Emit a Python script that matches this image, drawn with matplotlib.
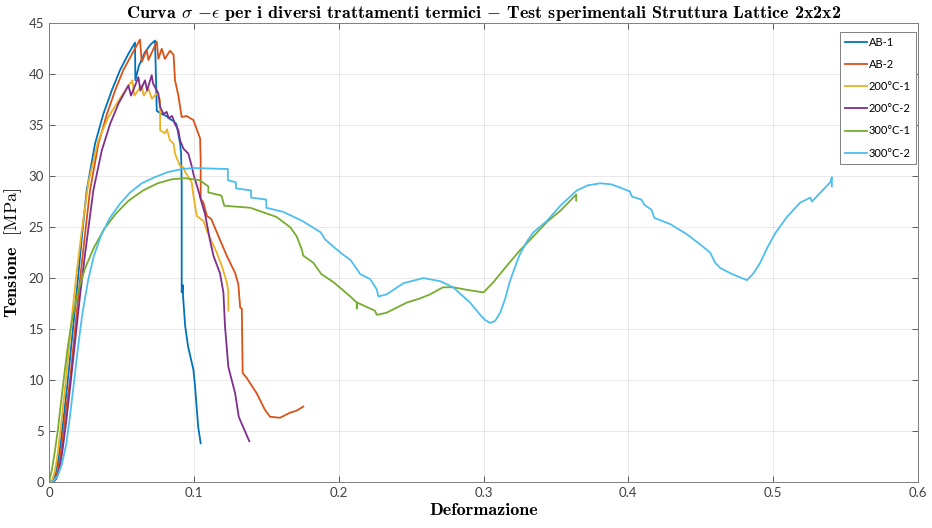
#!/usr/bin/env python3

import matplotlib
matplotlib.use("Agg")
import matplotlib.pyplot as plt

# Strain / stress points
ab1_x = [0, 0.002, 0.004, 0.006, 0.008, 0.0105, 0.013, 0.0165, 0.020, 0.023, 0.026, 0.0318,
         0.0375, 0.0433, 0.049, 0.0548, 0.0594,
         0.0596, 0.062, 0.066, 0.070, 0.0732, 0.0744, 0.0778, 0.081, 0.0835, 0.086, 0.088, 0.0893,
         0.0905, 0.0912, 0.0916, 0.0916, 0.0925, 0.0925, 0.094, 0.096, 0.0997, 0.1008, 0.103, 0.1047]
ab1_y = [0, 0.05, 0.5, 1.8, 3.8, 6.8, 10, 15, 20, 24.5, 28.6, 33.2,
         36.1, 38.4, 40.4, 42.0, 43.1,
         39.4, 40.8, 42.1, 42.9, 43.3, 36.4, 36.1, 35.9, 35.6, 35.4, 35.1, 34.1,
         33.2, 32.2, 29.2, 18.6, 19.3, 18.3, 15.3, 13.3, 11.0, 9.4, 5.4, 3.8]

ab2_x = [0, 0.003, 0.005, 0.007, 0.009, 0.0115, 0.0145, 0.018, 0.0215, 0.025, 0.0283, 0.0341,
         0.040, 0.0456, 0.0513, 0.057, 0.0628, 0.064,
         0.0675, 0.0686, 0.0744, 0.0755, 0.0778, 0.080, 0.0835, 0.086, 0.087, 0.0893, 0.0916,
         0.095, 0.0997, 0.1043, 0.1047, 0.1047, 0.1066, 0.109, 0.112, 0.117, 0.1227, 0.1285,
         0.1307, 0.132, 0.1331, 0.1337, 0.1365, 0.1434, 0.149, 0.1526, 0.1595, 0.1664, 0.171, 0.1756]
ab2_y = [0, 0.05, 0.5, 1.8, 3.8, 6.8, 10, 15, 20, 24.5, 28.6, 33.2,
         36.1, 38.4, 40.4, 41.9, 43.4, 41.2,
         42.4, 41.4, 43.2, 41.5, 42.5, 41.5, 42.3, 41.9, 39.4, 37.9, 35.8,
         35.9, 35.5, 33.7, 31.7, 27.8, 27.4, 26.1, 25.8, 24.1, 22.2, 20.5,
         19.4, 17.1, 17.0, 10.7, 10.2, 8.7, 7.1, 6.4, 6.3, 6.8, 7.0, 7.4]

t200_1_x = [0, 0.002, 0.004, 0.006, 0.008, 0.0105, 0.013, 0.016, 0.019, 0.0225, 0.0272, 0.034,
            0.041, 0.0479, 0.0536, 0.0575, 0.0589, 0.064,
            0.0654, 0.0686, 0.071, 0.0744, 0.0767, 0.0767, 0.080, 0.0815, 0.0835, 0.086, 0.087,
            0.0893, 0.0905, 0.0928, 0.094, 0.0985, 0.0997, 0.102, 0.1066, 0.110, 0.1158, 0.1193,
            0.1227, 0.1238, 0.1238]
t200_1_y = [0, 0.1, 1.0, 2.8, 5.2, 8.5, 12, 16.5, 20.5, 24.5, 29.4, 33.5,
            35.8, 37.4, 38.6, 39.4, 37.9, 38.9,
            37.9, 38.6, 37.6, 38.1, 37.5, 34.5, 34.2, 34.6, 33.5, 33.2, 32.2,
            31.4, 31.0, 30.9, 30.4, 29.4, 28.1, 26.1, 25.6, 24.3, 22.5, 21.2,
            19.6, 18.7, 16.8]

t200_2_x = [0, 0.003, 0.005, 0.007, 0.009, 0.0115, 0.0145, 0.018, 0.0215, 0.025, 0.0306, 0.0364,
            0.0421, 0.0479, 0.0548, 0.0566, 0.0617,
            0.0631, 0.0663, 0.0677, 0.0709, 0.0718, 0.0755, 0.0767, 0.079, 0.0813, 0.0825, 0.085,
            0.087, 0.0893, 0.0905, 0.0928, 0.0962, 0.0985, 0.0997, 0.1031, 0.1054, 0.1077, 0.111,
            0.1135, 0.118, 0.1204, 0.1215, 0.1238, 0.1285, 0.131, 0.134, 0.1383]
t200_2_y = [0, 0.03, 0.3, 1.2, 2.8, 5.5, 9.2, 13.8, 18.4, 22.5, 28.6, 32.5,
            35.1, 37.1, 38.9, 37.9, 39.7,
            38.4, 39.4, 38.4, 39.9, 39.1, 38.1, 36.8, 36.1, 36.3, 35.7, 35.9,
            35.1, 34.5, 33.5, 32.7, 32.2, 31.0, 30.2, 28.6, 27.4, 26.3, 23.8,
            22.2, 20.5, 18.6, 15.3, 11.3, 8.7, 6.4, 5.4, 4.0]

t300_1_x = [0, 0.002, 0.004, 0.006, 0.008, 0.0105, 0.013, 0.016, 0.020, 0.025, 0.031, 0.038,
            0.046, 0.055, 0.065, 0.075, 0.085,
            0.094, 0.104, 0.108, 0.110, 0.110, 0.119, 0.121, 0.139, 0.157, 0.1665, 0.171, 0.1745,
            0.1756, 0.1825, 0.188, 0.1964, 0.208, 0.2125, 0.2125, 0.2127, 0.225, 0.2263, 0.233,
            0.247, 0.256, 0.263, 0.272, 0.279, 0.2907, 0.300, 0.3068, 0.316, 0.325, 0.3345,
            0.3437, 0.353, 0.364, 0.364]
t300_1_y = [0, 1.2, 3.0, 5.0, 7.5, 10.5, 13.3, 16, 18.7, 21, 23, 24.8,
            26.3, 27.6, 28.6, 29.3, 29.7,
            29.8, 29.6, 29.2, 29.0, 28.4, 28.1, 27.1, 26.9, 26.0, 25.0, 24.1, 22.8,
            22.2, 21.5, 20.4, 19.6, 18.2, 17.6, 17.0, 17.6, 16.8, 16.4, 16.6,
            17.6, 18.0, 18.4, 19.1, 19.1, 18.8, 18.6, 19.6, 21.2, 22.7, 24.1,
            25.5, 26.6, 28.2, 27.6]

t300_2_x = [0, 0.003, 0.006, 0.009, 0.012, 0.0145, 0.017, 0.020, 0.023, 0.027, 0.031, 0.036,
            0.042, 0.049, 0.056, 0.064, 0.073, 0.082, 0.092,
            0.1, 0.1235, 0.1235, 0.129, 0.129, 0.1395, 0.1395, 0.150, 0.150, 0.1617, 0.175,
            0.1875, 0.1906, 0.1987, 0.203, 0.208, 0.2125, 0.2148, 0.2217, 0.2263, 0.2274, 0.233,
            0.2447, 0.2585, 0.270, 0.279, 0.2907, 0.2977, 0.301, 0.3046, 0.308, 0.3115, 0.315,
            0.318, 0.3215, 0.325, 0.330, 0.3345,
            0.3437, 0.353, 0.3644, 0.372, 0.3805, 0.388, 0.394, 0.401, 0.4025, 0.409, 0.411, 0.416,
            0.418, 0.4289, 0.4404, 0.4496, 0.4565, 0.46, 0.4634, 0.4715, 0.4818, 0.486, 0.491,
            0.496, 0.5014, 0.5095, 0.5186, 0.5256, 0.5267, 0.5394, 0.5405, 0.5405]
t300_2_y = [0, 0.1, 0.6, 1.8, 3.8, 6.5, 9.5, 13.2, 16.5, 19.8, 22.2, 24.2,
            25.9, 27.3, 28.4, 29.3, 29.9, 30.4, 30.7,
            30.8, 30.7, 29.6, 29.4, 28.8, 28.6, 27.9, 27.7, 26.9, 26.5, 25.6,
            24.5, 23.8, 22.8, 22.3, 21.8, 20.9, 20.4, 19.9, 18.9, 18.2, 18.4,
            19.5, 20.0, 19.7, 19.1, 17.6, 16.4, 15.9, 15.6, 15.8, 16.6, 18.0,
            19.6, 21.0, 22.3, 23.6, 24.5,
            25.6, 27.1, 28.6, 29.1, 29.3, 29.2, 28.9, 28.5, 28.0, 27.7, 27.2, 26.7,
            25.9, 25.3, 24.3, 23.3, 22.5, 21.5, 21.0, 20.4, 19.8, 20.4, 21.5,
            23.0, 24.4, 26.0, 27.4, 27.9, 27.5, 29.4, 29.9, 29.0]

labels = ["AB-1", "AB-2", "200°C-1", "200°C-2", "300°C-1", "300°C-2"]
# MATLAB default colour order
colors = ["#0072BD", "#D95319", "#EDB120", "#7E2F8E", "#77AC30", "#4DBEEE"]

series = [(ab1_x, ab1_y), (ab2_x, ab2_y), (t200_1_x, t200_1_y),
          (t200_2_x, t200_2_y), (t300_1_x, t300_1_y), (t300_2_x, t300_2_y)]

plt.rcParams['mathtext.fontset'] = 'cm'
tick_font = ['Lato', 'DejaVu Sans']
serif_bold = ['cmb10', 'DejaVu Serif']

fig = plt.figure(figsize=(9.32, 5.28), dpi=100)
ax = fig.add_axes([0.0526, 0.0871, 0.9324, 0.8689])

for (xs, ys), lab, c in zip(series, labels, colors):
    ax.plot(xs, ys, color=c, linewidth=1.3, label=lab)

ax.set_xlim(0, 0.6)
ax.set_ylim(0, 45)
ax.set_xticks([0, 0.1, 0.2, 0.3, 0.4, 0.5, 0.6])
ax.set_xticklabels(["0", "0.1", "0.2", "0.3", "0.4", "0.5", "0.6"])
ax.set_yticks(range(0, 46, 5))
ax.grid(True, color="#262626", alpha=0.1, linewidth=0.7)
ax.tick_params(direction='in', top=True, right=True, length=4, width=0.6,
               colors="#404040", labelsize=9.5)
for lbl in ax.get_xticklabels() + ax.get_yticklabels():
    lbl.set_family(tick_font)
for sp in ax.spines.values():
    sp.set_color("#808080")
    sp.set_linewidth(0.7)

ax.set_title(r"Curva $\sigma$ $-\epsilon$ per i diversi trattamenti termici $-$ Test sperimentali Struttura Lattice 2x2x2",
             family=serif_bold, fontsize=13, pad=4)
ax.set_xlabel("Deformazione", family=serif_bold, fontsize=13, labelpad=3)
ax.set_ylabel(r"Tensione  $[\mathrm{MPa}]$", family=serif_bold, fontsize=13, labelpad=3)

leg = ax.legend(loc='upper right', bbox_to_anchor=(916 / 932, 1 - 32 / 528),
                bbox_transform=fig.transFigure, borderaxespad=0,
                prop={'family': tick_font, 'size': 8},
                handlelength=2.0, handletextpad=0.2, labelspacing=1.0,
                borderpad=0.45, fancybox=False, framealpha=1)
leg.get_frame().set_edgecolor("#808080")
leg.get_frame().set_linewidth(0.7)

fig.savefig("out.png", dpi=100)
